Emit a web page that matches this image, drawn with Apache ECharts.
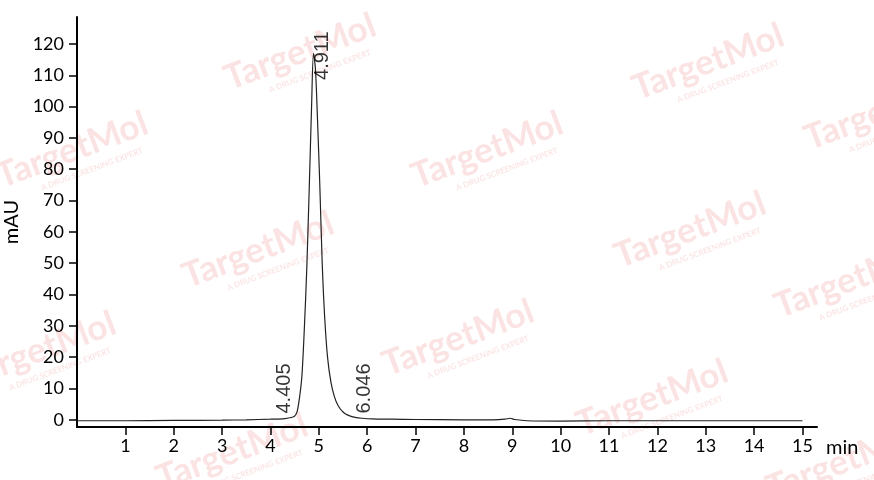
<!DOCTYPE html>
<html><head><meta charset="utf-8">
<script src="https://cdn.jsdelivr.net/npm/echarts@6/dist/echarts.min.js"></script>
<style>html,body{margin:0;padding:0;background:#fff}#c{width:874px;height:480px}</style>
</head><body><div id="c"></div>
<script>
// Chromatogram trace
const times = [0, 1, 2, 3, 3.5, 4.0, 4.3, 4.45, 4.5, 4.55, 4.6, 4.65, 4.7, 4.75, 4.8, 4.85, 4.89, 4.93, 4.97, 5.02, 5.07, 5.12, 5.18, 5.25, 5.32, 5.4, 5.5, 5.6, 5.75, 5.9, 6.1, 6.5, 7, 8, 8.6, 8.85, 8.95, 9.05, 9.3, 10, 11, 12, 13, 14, 15];
const signal = [-0.3, -0.3, -0.2, -0.1, 0, 0.2, 0.4, 0.8, 1.2, 2.5, 7, 14, 29, 48, 73, 100, 117, 112, 97, 75, 50, 33, 20, 12, 7.5, 4.5, 2.5, 1.5, 0.8, 0.5, 0.3, 0.2, 0.1, 0.0, 0.0, 0.2, 0.5, 0.1, -0.3, -0.4, -0.3, -0.3, -0.3, -0.3, -0.3];
// Peak retention-time annotations
const peakTimes = [4.405, 4.911, 6.046];
const peakLabelLevel = [2, 108.5, 2];
const peakLabelShift = [4, 18, 5];
// Axis ticks
const xTicks = [1,2,3,4,5,6,7,8,9,10,11,12,13,14,15];
const yTicks = [0,10,20,30,40,50,60,70,80,90,100,110,120];
// Watermark centers
const wmPos = [[300,52],[708,62],[72,150],[487,150],[258,250],[690,230],[850,280],[40,350],[458,338],[652,398],[232,452],[880,112],[842,462]];

const chart = echarts.init(document.getElementById('c'));
const font = 'Lato';
const graphics = wmPos.map(p => ({
  type: 'group', x: p[0], y: p[1], rotation: 0.36, z: 0, silent: true,
  children: [
    {type:'text', x:0, y:0, style:{text:'TargetMol', fill:'#fbe3e3', font:'bold 35px Lato', textAlign:'center', textVerticalAlign:'middle'}},
    {type:'text', x:12, y:25, style:{text:'A DRUG SCREENING EXPERT', fill:'#fbe6e6', font:'bold 8px Lato', textAlign:'center', textVerticalAlign:'middle'}}
  ]
}));
chart.setOption({
  animation: false,
  graphic: graphics,
  grid: {left: 77, right: 57, top: 17, bottom: 53, containLabel: false, outerBoundsMode: 'none'},
  xAxis: {
    type: 'value', min: 0, max: 15.3,
    name: 'min', nameLocation: 'end', nameGap: 9,
    nameTextStyle: {color:'#000', fontSize: 20, fontFamily: font, verticalAlign: 'top', padding: [11,0,0,0]},
    axisLine: {onZero: false, lineStyle: {color:'#000', width: 2}},
    axisTick: {show: true, customValues: xTicks, length: 8, lineStyle: {color:'#000', width: 1.5}},
    axisLabel: {customValues: xTicks, color:'#000', fontSize: 18, fontFamily: font, margin: 10},
    splitLine: {show: false}
  },
  yAxis: {
    type: 'value', min: -2.3, max: 128.6,
    name: 'mAU', nameLocation: 'middle', nameGap: 52,
    nameTextStyle: {color:'#000', fontSize: 20, fontFamily: font},
    axisLine: {show: true, onZero: false, lineStyle: {color:'#000', width: 2}},
    axisTick: {show: true, customValues: yTicks, length: 8, lineStyle: {color:'#000', width: 1.5}},
    axisLabel: {customValues: yTicks, color:'#000', fontSize: 18, fontFamily: font, margin: 13},
    splitLine: {show: false}
  },
  series: [
    {type: 'line', data: times.map((t,i)=>[t, signal[i]]), showSymbol: false, smooth: 0.3,
     lineStyle: {color:'#222', width: 1.2}, z: 3},
    {type: 'scatter', symbolSize: 0, z: 4,
     data: peakTimes.map((t,i)=>({value:[t, peakLabelLevel[i]],
       label:{show:true, formatter: t.toFixed(3), rotate: 90, position:[peakLabelShift[i], 0],
              align:'left', verticalAlign:'bottom', fontSize: 20, fontFamily:'Liberation Sans', color:'#000'}}))}
  ]
});
</script></body></html>
